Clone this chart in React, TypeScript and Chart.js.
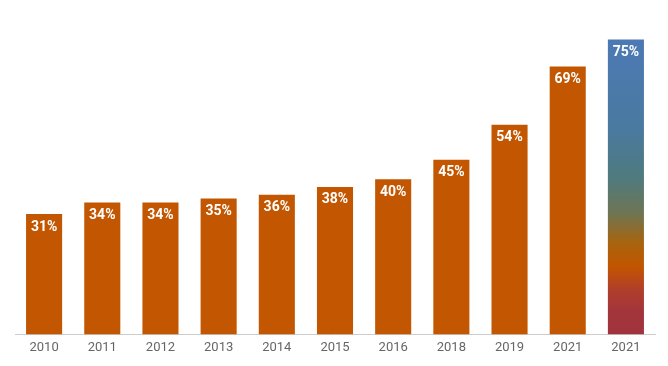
import React, { useEffect, useRef } from "react";
import { Chart, registerables } from "chart.js";

Chart.register(...registerables);

const categories = ["2010", "2011", "2012", "2013", "2014", "2015", "2016", "2018", "2019", "2021", "2021"];
const values = [31, 34, 34, 35, 36, 38, 40, 45, 54, 69, 76];
const valueLabels = ["31%", "34%", "34%", "35%", "36%", "38%", "40%", "45%", "54%", "69%", "75%"];
const highlightIndex = 10;

const BAR_COLOR = "#c35600";

const gradientStops: [number, string][] = [
  [0, "#4c79b4"],
  [0.3, "#4a7aa0"],
  [0.47, "#4f7a7e"],
  [0.59, "#6e7553"],
  [0.69, "#a8640e"],
  [0.77, "#c25500"],
  [0.85, "#b03e2c"],
  [0.92, "#a2353a"],
  [1, "#a0333d"],
];

const labelPlugin = {
  id: "barValueLabels",
  afterDatasetsDraw(chart: any) {
    const ctx = chart.ctx;
    const meta = chart.getDatasetMeta(0);
    ctx.save();
    ctx.font = "bold 14px Roboto";
    ctx.fillStyle = "#ffffff";
    ctx.textAlign = "center";
    ctx.textBaseline = "middle";
    meta.data.forEach((bar: any, i: number) => {
      ctx.fillText(valueLabels[i], bar.x, bar.y + 13);
    });
    ctx.restore();
  },
};

export default function App() {
  const ref = useRef<HTMLCanvasElement | null>(null);
  useEffect(() => {
    if (!ref.current) return;
    const chart = new Chart(ref.current, {
      type: "bar",
      data: {
        labels: categories,
        datasets: [
          {
            data: values,
            backgroundColor: (c: any) => {
              if (c.dataIndex !== highlightIndex) return BAR_COLOR;
              const ch = c.chart;
              const area = ch.chartArea;
              if (!area) return BAR_COLOR;
              const ys = ch.scales.y;
              const top = ys.getPixelForValue(values[highlightIndex]);
              const bottom = ys.getPixelForValue(0);
              const g = ch.ctx.createLinearGradient(0, top, 0, bottom);
              gradientStops.forEach(([o, col]) => g.addColorStop(o, col));
              return g;
            },
            borderWidth: 0,
            barPercentage: 0.62,
            categoryPercentage: 1,
          },
        ],
      },
      options: {
        animation: false,
        responsive: false,
        maintainAspectRatio: false,
        layout: { padding: { top: 20, left: 15, right: 13, bottom: 4 } },
        plugins: { legend: { display: false }, tooltip: { enabled: false } },
        scales: {
          x: {
            grid: { display: false, drawTicks: false },
            border: { display: true, color: "#cccccc", width: 1 },
            ticks: { color: "#666666", font: { family: "Roboto", size: 13 }, padding: 6 },
          },
          y: {
            display: false,
            min: 0,
            max: 81,
          },
        },
      },
      plugins: [labelPlugin],
    });
    return () => chart.destroy();
  }, []);
  return (
    <div style={{ position: "fixed", left: 0, top: 0, width: 668, height: 366, background: "#fff" }}>
      <canvas ref={ref} width={668} height={366} style={{ width: 668, height: 366, display: "block" }} />
    </div>
  );
}
